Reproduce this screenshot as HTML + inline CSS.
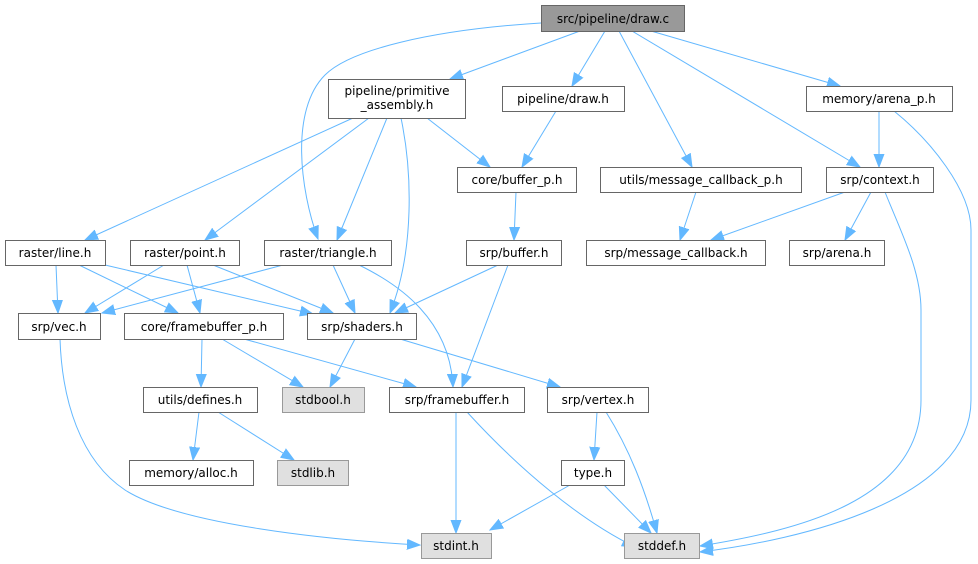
<!DOCTYPE html>
<html><head><meta charset="utf-8"><style>
html,body{margin:0;padding:0;background:#fff;}
svg{display:block;}
text{font-family:"DejaVu Sans","Liberation Sans",sans-serif;font-size:12px;fill:#000;text-anchor:middle;}
.b{fill:#fff;stroke:#666;stroke-width:1;}
.g{fill:#e0e0e0;stroke:#999;stroke-width:1;}
.e path{fill:none;stroke:#63b8ff;stroke-width:1;marker-end:url(#a);}
</style></head><body>
<svg width="978" height="564" viewBox="0 0 978 564" xmlns="http://www.w3.org/2000/svg">
<defs><marker id="a" markerUnits="userSpaceOnUse" markerWidth="14" markerHeight="12" refX="13" refY="6" orient="auto"><path d="M0,1 L13,6 L0,11 z" fill="#63b8ff" stroke="#63b8ff"/></marker></defs>
<g class="e">
<path d="M541,23 C430,30 350,50 325,75 C290,110 300,190 318,239"/>
<path d="M580,31 L450,79"/>
<path d="M605,31 L572,86"/>
<path d="M619,31 L692,167"/>
<path d="M632,31 L860,167"/>
<path d="M651,31 L840,86"/>
<path d="M879,111 L879,167"/>
<path d="M894,111 C930,140 971,190 971,230 L971,400 C971,500 800,540 700,552"/>
<path d="M885,192 C900,230 921,270 921,310 L921,400 C921,500 800,530 700,546"/>
<path d="M845,192 L711,240"/>
<path d="M871,192 L845,240"/>
<path d="M696,192 L680,240"/>
<path d="M556,111 L522,167"/>
<path d="M427,118 L490,167"/>
<path d="M516,192 L514,240"/>
<path d="M508,265 L462,387"/>
<path d="M498,265 L395,313"/>
<path d="M353,118 L85,240"/>
<path d="M369,118 L205,240"/>
<path d="M387,118 L337,240"/>
<path d="M401,118 C412,170 415,250 390,313"/>
<path d="M56,265 L58,313"/>
<path d="M79,265 L178,313"/>
<path d="M105,265 L313,314"/>
<path d="M164,265 L85,313"/>
<path d="M187,265 L200,313"/>
<path d="M213,265 L333,313"/>
<path d="M283,265 L102,313"/>
<path d="M333,265 L355,313"/>
<path d="M359,265 C400,285 450,320 453,387"/>
<path d="M355,339 L330,387"/>
<path d="M400,339 L560,387"/>
<path d="M202,339 L201,387"/>
<path d="M222,339 L303,387"/>
<path d="M244,339 L416,387"/>
<path d="M199,412 L193,460"/>
<path d="M218,412 L294,460"/>
<path d="M60,339 C62,400 80,460 125,490 C180,525 330,540 420,545"/>
<path d="M456,412 L456,533"/>
<path d="M467,412 C520,470 580,520 635,547"/>
<path d="M597,412 L594,460"/>
<path d="M606,412 C630,450 645,490 657,533"/>
<path d="M570,485 L490,530"/>
<path d="M604,485 L651,533"/>
</g>
<rect x="541.5" y="5.5" width="143" height="26" fill="#999" stroke="#666"/><text x="613" y="23">src/pipeline/draw.c</text>
<rect class="b" x="328.5" y="79.5" width="137" height="39"/><text x="397" y="95">pipeline/primitive</text><text x="397" y="109">_assembly.h</text>
<rect class="b" x="502.5" y="86.5" width="122" height="25"/><text x="563" y="103">pipeline/draw.h</text>
<rect class="b" x="806.5" y="86.5" width="146" height="25"/><text x="879" y="103">memory/arena_p.h</text>
<rect class="b" x="457.5" y="167.5" width="119" height="25"/><text x="517" y="184">core/buffer_p.h</text>
<rect class="b" x="600.5" y="167.5" width="201" height="25"/><text x="701" y="184">utils/message_callback_p.h</text>
<rect class="b" x="826.5" y="167.5" width="107" height="25"/><text x="880" y="184">srp/context.h</text>
<rect class="b" x="466.5" y="240.5" width="95" height="25"/><text x="514" y="257">srp/buffer.h</text>
<rect class="b" x="586.5" y="240.5" width="179" height="25"/><text x="676" y="257">srp/message_callback.h</text>
<rect class="b" x="789.5" y="240.5" width="95" height="25"/><text x="837" y="257">srp/arena.h</text>
<rect class="b" x="5.5" y="240.5" width="100" height="25"/><text x="55" y="257">raster/line.h</text>
<rect class="b" x="130.5" y="240.5" width="109" height="25"/><text x="185" y="257">raster/point.h</text>
<rect class="b" x="264.5" y="240.5" width="127" height="25"/><text x="328" y="257">raster/triangle.h</text>
<rect class="b" x="18.5" y="313.5" width="82" height="26"/><text x="59" y="331">srp/vec.h</text>
<rect class="b" x="124.5" y="313.5" width="159" height="26"/><text x="204" y="331">core/framebuffer_p.h</text>
<rect class="b" x="307.5" y="313.5" width="109" height="26"/><text x="362" y="331">srp/shaders.h</text>
<rect class="b" x="143.5" y="387.5" width="114" height="25"/><text x="200" y="404">utils/defines.h</text>
<rect class="g" x="282.5" y="387.5" width="82" height="25"/><text x="323" y="404">stdbool.h</text>
<rect class="b" x="389.5" y="387.5" width="135" height="25"/><text x="457" y="404">srp/framebuffer.h</text>
<rect class="b" x="547.5" y="387.5" width="101" height="25"/><text x="598" y="404">srp/vertex.h</text>
<rect class="b" x="129.5" y="460.5" width="124" height="25"/><text x="191" y="477">memory/alloc.h</text>
<rect class="g" x="277.5" y="460.5" width="71" height="25"/><text x="313" y="477">stdlib.h</text>
<rect class="b" x="561.5" y="460.5" width="63" height="25"/><text x="593" y="477">type.h</text>
<rect class="g" x="421.5" y="533.5" width="70" height="25"/><text x="456" y="550">stdint.h</text>
<rect class="g" x="624.5" y="533.5" width="75" height="25"/><text x="662" y="550">stddef.h</text>
</svg>
</body></html>
